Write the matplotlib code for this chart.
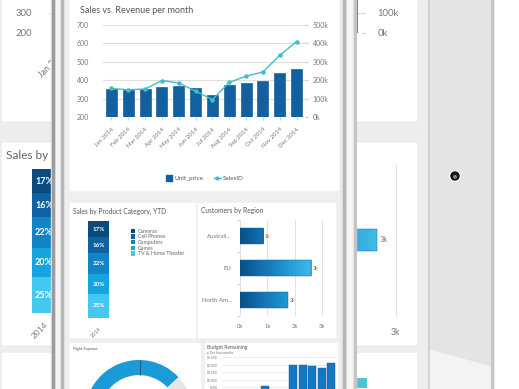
import numpy as np
import matplotlib.pyplot as plt
from matplotlib.colors import LinearSegmentedColormap
from matplotlib.lines import Line2D
from matplotlib.patches import Rectangle, Circle, Polygon

plt.rcParams['font.family'] = ['Lato', 'DejaVu Sans']

# Sales vs. Revenue per month
months = ["Jan 2014", "Feb 2014", "Mar 2014", "Apr 2014", "May 2014", "Jun 2014",
          "Jul 2014", "Aug 2014", "Sep 2014", "Oct 2014", "Nov 2014", "Dec 2014"]
unit_price = [350, 345, 350, 365, 368, 360, 322, 375, 383, 395, 440, 460]
sales_id_k = [155, 148, 152, 198, 185, 140, 95, 188, 222, 245, 335, 410]
price_ticks = [200, 300, 400, 500, 600, 700]
sales_ticks = [0, 100, 200, 300, 400, 500]

# Sales by Product Category, YTD (top to bottom)
categories = ["Cameras", "Cell Phones", "Computers", "Games", "TV & Home Theater"]
category_share = [17, 16, 22, 20, 25]
category_colors = ["#0b4b7c", "#0f62a2", "#1283c4", "#16a3e0", "#45c8f0"]

# Customers by Region (thousands)
regions = ["Australi...", "EU", "North Am..."]
customers_k = [0.85, 2.6, 1.75]
customer_labels = ["1k", "3k", "2k"]

# Flight Expense / Budget Remaining
flight_split = [78, 22]
flight_target = 0.125
budget_remaining = [0, 0, 0, 0, 560, 0, 0, 1950, 1950, 1870, 1800, 2130]
budget_ticks = [500, 1000, 1500, 2000, 2500]
bg_bottom_bar = [0.62]

W, H = 519, 389
BAR = "#12609f"
LINE = "#3fbfca"
GREY = "#777777"
grad_cmap = LinearSegmentedColormap.from_list("reg", ["#0a4f8a", "#1b8fd0", "#4ccdf0"])

fig = plt.figure(figsize=(W / 100, H / 100), dpi=100)


def box(x0, y0, x1, y1, z):
    ax = fig.add_axes([x0 / W, 1 - y1 / H, (x1 - x0) / W, (y1 - y0) / H])
    ax.set_zorder(z)
    ax.patch.set_alpha(0)
    for s in ax.spines.values():
        s.set_visible(False)
    return ax


def layer(z):
    ax = fig.add_axes([0, 0, 1, 1])
    ax.set_xlim(0, W)
    ax.set_ylim(H, 0)
    ax.axis("off")
    ax.set_zorder(z)
    return ax


def sales_chart(ax, z, fs, fsx, pad_l, pad_r, pad_x, lticks, rticks):
    x = np.arange(len(months))
    ax.bar(x, unit_price, width=0.65, color=BAR, edgecolor="#0a4a80", linewidth=0.4)
    ax.set_xlim(-0.5, 11.5)
    ax.set_ylim(200, 700)
    ax.set_yticks(lticks)
    ax.yaxis.grid(True, color="#dedede", lw=0.8)
    ax.set_axisbelow(True)
    ax.tick_params(axis="y", length=0, labelsize=fs, labelcolor=GREY, pad=pad_l)
    ax.set_xticks(x)
    ax.set_xticklabels(months, rotation=45, ha="right", rotation_mode="anchor")
    ax.tick_params(axis="x", length=2, color="#cccccc", labelsize=fsx, labelcolor=GREY, pad=pad_x)
    ax2 = ax.twinx()
    ax2.set_zorder(z + 0.1)
    for s in ax2.spines.values():
        s.set_visible(False)
    ax2.plot(x, sales_id_k, color=LINE, marker="o", ms=fs * 0.45, lw=1)
    ax2.set_ylim(0, 500)
    ax2.set_yticks(rticks)
    ax2.set_yticklabels([f"{v}k" for v in rticks])
    ax2.tick_params(axis="y", length=2, color="#cccccc", labelsize=fs, labelcolor=GREY, pad=pad_r)


def stack_chart(ax, fs, fsx):
    bottom = 0
    for name, v, c in reversed(list(zip(categories, category_share, category_colors))):
        ax.bar([0], [v], bottom=bottom, width=0.72, color=c, label=name)
        ax.text(0, bottom + v / 2, f"{v}%", color="white", fontsize=fs,
                fontweight="bold", ha="center", va="center")
        bottom += v
    ax.set_xlim(-0.5, 0.5)
    ax.set_ylim(0, 100)
    ax.set_yticks([])
    ax.set_xticks([0])
    ax.set_xticklabels(["2014"], rotation=45, ha="right", rotation_mode="anchor")
    ax.tick_params(axis="x", length=0, labelsize=fsx, labelcolor=GREY, pad=6)


def region_chart(ax, fs, bar_h, lab_pad, xticks):
    y = np.arange(len(regions))
    bars = ax.barh(y, customers_k, height=bar_h, facecolor="none",
                   edgecolor="#0b5a98", linewidth=0.3, zorder=3)
    grad = np.linspace(0, 1, 256).reshape(1, -1)
    for b in bars:
        im = ax.imshow(grad, extent=[0, 3, 2.5, -0.5], cmap=grad_cmap,
                       aspect="auto", zorder=2)
        im.set_clip_path(b)
    for yi, v, lab in zip(y, customers_k, customer_labels):
        ax.text(v + 0.06, yi, lab, fontsize=fs * 0.9, color=GREY, va="center")
    ax.set_xlim(0, 3.03)
    ax.set_ylim(2.5, -0.5)
    ax.set_xticks(xticks)
    ax.set_xticklabels([f"{v}k" for v in xticks])
    ax.set_yticks(y)
    ax.set_yticklabels(regions)
    ax.set_yticks([-0.5, 0.5, 1.5, 2.5], minor=True)
    ax.xaxis.grid(True, color="#e2e2e2", lw=0.8)
    ax.set_axisbelow(True)
    ax.tick_params(axis="both", which="major", length=0, labelsize=fs, labelcolor=GREY, pad=lab_pad)
    ax.tick_params(axis="y", which="minor", length=2, color="#cccccc")


# ---------- tablet behind ----------
bg = layer(0)
bg.add_patch(Rectangle((0, 0), W, H, color="#ededed"))
for y0, y1 in [(0, 120), (143, 344), (353, 400)]:
    bg.add_patch(Rectangle((2, y0), 414, y1 - y0, color="white"))
bg.text(6, 155, "Sales by Product Category, YTD", fontsize=8.5, color="#666666", va="center")

ax = box(49, -67, 362, 33, 1)
sales_chart(ax, 1, 6.8, 6.3, 12, 9, 9, [200, 300], [0, 100])

ax = box(27, 169, 61, 313, 1)
stack_chart(ax, 6.5, 6)

ax = box(253, 163.5, 397, 316.5, 1)
region_chart(ax, 6.2, 0.45, 8, [2, 3])

ax = box(330, 377, 390, 389, 1)
ax.barh([0], bg_bottom_bar, height=0.9, color="#4fc3d6")
ax.set_xlim(0, 1)
ax.set_ylim(-0.5, 0.5)
ax.set_xticks([])
ax.set_yticks([])

# tablet bezel
bz = layer(1.5)
bz.add_patch(Rectangle((428, 0), 67, H, color="#e4e4e4"))
bz.add_patch(Rectangle((495, 0), 30, H, color="white"))
bz.add_patch(Polygon([(429, 350), (491, 367), (491, 389), (429, 389)], color="#f3f3f3"))
bz.plot([428.5, 428.5], [0, H], color="#cfcfcf", lw=1.2)
bz.plot([492, 492], [0, H], color="#c6c6c6", lw=2.2)
bz.add_patch(Circle((455, 176), 5.2, color="white"))
bz.add_patch(Circle((455, 176), 4.0, color="#111111"))
bz.add_patch(Circle((455, 176.8), 1.3, color="#888888"))

# ---------- phone in front ----------
ph = layer(2)
ph.add_patch(Rectangle((64, 0), 277, H, color="#efefef"))
ph.add_patch(Rectangle((51, 0), 13, H, color="#e2e2e2"))
ph.add_patch(Rectangle((341, 0), 15, H, color="#e6e6e6"))
for xl, c, w in [(53, "#9c9c9c", 2.4), (57.5, "#f4f4f4", 3), (62, "#b8b8b8", 2.2),
                 (344, "#b4b4b4", 2.4), (349.5, "#f6f6f6", 4), (354.5, "#c4c4c4", 2.2)]:
    ph.plot([xl, xl], [0, H], color=c, lw=w)
for x0, y0, x1, y1 in [(70, 0, 338, 190), (70, 203, 195, 337), (198, 203, 335, 337),
                       (70, 343, 200, 400), (205, 343, 337, 400)]:
    ph.add_patch(Rectangle((x0, y0), x1 - x0, y1 - y0, color="white"))
ph.text(80, 10, "Sales vs. Revenue per month", fontsize=6.5, color="#555555", va="center")
ph.text(73, 211, "Sales by Product Category, YTD", fontsize=4.8, color="#555555", va="center")
ph.text(201, 210, "Customers by Region", fontsize=4.8, color="#555555", va="center")
ph.text(73, 349, "Flight Expense", fontsize=2.8, color="#555555", va="center")
ph.text(207, 348, "Budget Remaining", fontsize=3.6, color="#555555", va="center")
ph.text(207, 352.5, "\u25cf This fiscal months", fontsize=2.2, color="#777777", va="center")

ax = box(103, 25, 305, 117, 3)
sales_chart(ax, 3, 5, 4.3, 10, 3.6, 5, price_ticks, sales_ticks)
fig.legend([Rectangle((0, 0), 1, 1, color=BAR),
            Line2D([], [], color=LINE, marker="o", ms=2, lw=1)],
           ["Unit_price", "SalesID"], loc="center", bbox_to_anchor=(205 / W, 1 - 178 / H),
           ncol=2, frameon=False, fontsize=4.6, handlelength=1.0, handleheight=1.0,
           columnspacing=1.6, handletextpad=0.4, labelcolor="#555555")

ax = box(84, 221, 113, 318, 3)
stack_chart(ax, 4.5, 4)
h, l = ax.get_legend_handles_labels()
ax.legend(h[::-1], l[::-1], loc="upper left", bbox_to_anchor=(128 / W, 1 - 226 / H),
          bbox_transform=fig.transFigure, fontsize=3.8, handlelength=0.9, handleheight=0.9,
          labelspacing=0.12, borderpad=0, handletextpad=0.4, frameon=False, labelcolor="#666666")

ax = box(240, 220, 323, 316, 3)
region_chart(ax, 4.3, 0.5, 6, [0, 1, 2, 3])

ax = box(85, 360, 193, 468, 3)
ax.pie(flight_split, colors=["#1a9bd7", "#e6e6e6"], startangle=43, counterclock=True,
       radius=1, wedgeprops=dict(width=0.28, linewidth=0))
ang = np.deg2rad(43 + flight_target * 360)
ax.plot([0.72 * np.cos(ang), np.cos(ang)], [0.72 * np.sin(ang), np.sin(ang)], color="#2a4a66", lw=0.6)
ax.set_xlim(-1, 1)
ax.set_ylim(-1, 1)

ax = box(222, 357, 336, 394.5, 3)
ax.bar(np.arange(len(budget_remaining)), budget_remaining, width=0.84,
       color="#1576c2", edgecolor="#0d5c9c", linewidth=0.3)
ax.set_xlim(-0.5, 11.5)
ax.set_ylim(0, 2500)
ax.set_yticks(budget_ticks)
ax.set_yticklabels([f"${v:,}" for v in budget_ticks])
ax.yaxis.grid(True, color="#e6e6e6", lw=0.5)
ax.set_axisbelow(True)
ax.set_xticks([])
ax.tick_params(axis="y", length=0, labelsize=2.4, labelcolor=GREY, pad=3)

fig.savefig("out.png", dpi=100)
